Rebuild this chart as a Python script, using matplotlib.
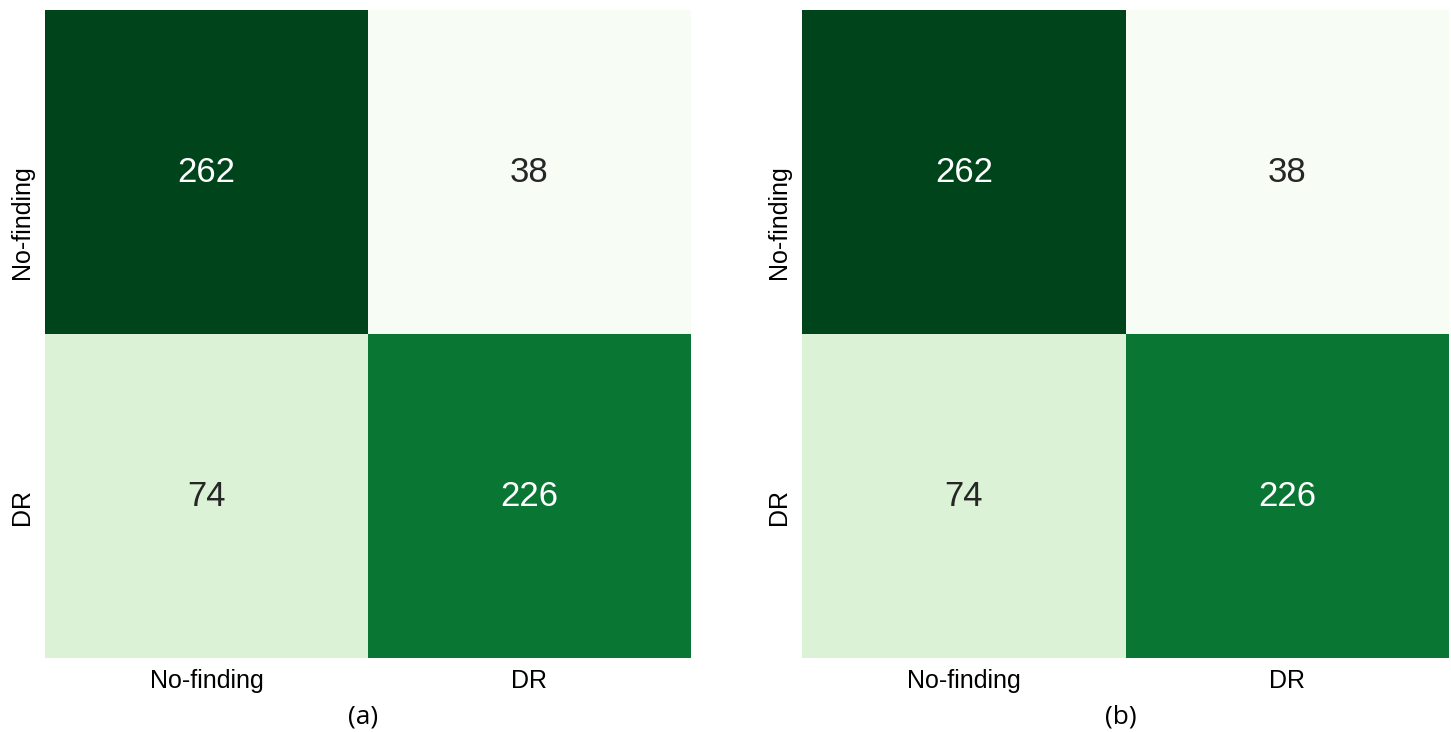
import matplotlib
matplotlib.use("Agg")
import matplotlib.pyplot as plt
import matplotlib.transforms as mtransforms
import numpy as np
import seaborn as sns

plt.rcParams["font.family"] = ["Liberation Sans", "DejaVu Sans"]

classes = ["No-finding", "DR"]
cm_a = np.array([[262, 38],
                 [74, 226]])
cm_b = np.array([[262, 38],
                 [74, 226]])
panel_labels = ["(a)", "(b)"]

fig = plt.figure(figsize=(14.51, 7.32), dpi=100)
axes = [fig.add_axes([0.031, 0.101, 0.445, 0.885]),
        fig.add_axes([0.5527, 0.101, 0.446, 0.885])]

# y tick labels hang down from the tick, starting a few px above it
shift = mtransforms.ScaledTranslation(0, 0.07, fig.dpi_scale_trans)

for ax, cm, lab in zip(axes, [cm_a, cm_b], panel_labels):
    sns.heatmap(cm, ax=ax, cmap="Greens", annot=True, fmt="d", cbar=False,
                annot_kws={"fontsize": 25},
                xticklabels=classes, yticklabels=classes)
    ax.tick_params(length=0, labelsize=18, pad=8)
    for t in ax.get_yticklabels():
        t.set_rotation(90)
        t.set_va("top")
        t.set_transform(t.get_transform() + shift)
    pos = ax.get_position()
    fig.text(pos.x0 + pos.width / 2 - 0.003, 0.02, lab, ha="center", va="center",
             fontsize=19, family=["Open Sans", "DejaVu Sans"])

fig.savefig("out.png", dpi=100)
